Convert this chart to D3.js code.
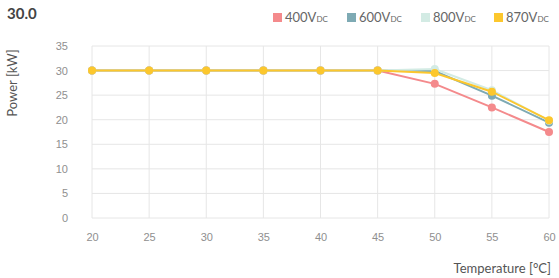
<!DOCTYPE html>
<html>
<head>
<meta charset="utf-8">
<script src="https://cdn.jsdelivr.net/npm/d3@7"></script>
<style>
  body { margin: 0; background: #fff; font-family: "Lato", "Open Sans", sans-serif; }
  .tick text { fill: #8f8f8f; font-size: 11px; }
</style>
</head>
<body>
<div class="viz"></div>
<script>
const temps = [20, 25, 30, 35, 40, 45, 50, 55, 60];
const yTicks = [0, 5, 10, 15, 20, 25, 30, 35];

const series = ["400", "600", "800", "870"];
const p400 = [30, 30, 30, 30, 30, 30, 27.3, 22.5, 17.5];
const p600 = [30, 30, 30, 30, 30, 30, 29.9, 24.9, 19.4];
const p800 = [30, 30, 30, 30, 30, 30, 30.3, 26.0, 19.8];
const p870 = [30, 30, 30, 30, 30, 30, 29.5, 25.7, 19.9];

const colors = ["#f48a8c", "#7eaab4", "#d3ebe4", "#fcc72d"];
const values = [p400, p600, p800, p870];

const margin = { top: 46, right: 10, bottom: 60, left: 92 };
const W = 559, H = 278;
const width = W - margin.left - margin.right;
const height = H - margin.top - margin.bottom;

const svg = d3.select('.viz')
    .append('svg')
    .attr('width', W)
    .attr('height', H);

const g = svg.append('g')
    .attr('transform', `translate(${margin.left},${margin.top})`);

const x = d3.scaleLinear().domain([20, 60]).range([0, width]);
const y = d3.scaleLinear().domain([0, 35]).range([height, 0]);

// grid
g.append("g")
    .selectAll("line")
    .data(yTicks)
    .enter()
    .append("line")
    .attr("x1", 0).attr("x2", width)
    .attr("y1", d => y(d)).attr("y2", d => y(d))
    .style("stroke", "#e6e6e6");

g.append("g")
    .selectAll("line")
    .data(temps)
    .enter()
    .append("line")
    .attr("y1", 0).attr("y2", height)
    .attr("x1", d => x(d)).attr("x2", d => x(d))
    .style("stroke", "#e6e6e6");

// axes
const yAxis = g.append("g")
    .call(d3.axisLeft(y).tickValues(yTicks).tickSize(0).tickPadding(24));
yAxis.select(".domain").remove();

const xAxis = g.append("g")
    .attr("transform", `translate(0,${height})`)
    .call(d3.axisBottom(x).tickValues(temps).tickSize(0).tickPadding(15));
xAxis.select(".domain").remove();

// axis titles
svg.append("text")
    .attr("transform", `translate(17,${margin.top + 37}) rotate(-90)`)
    .attr("text-anchor", "middle")
    .style("font-size", "13px")
    .style("fill", "#555")
    .text("Power [kW]");

svg.append("text")
    .attr("x", 551)
    .attr("y", 273)
    .attr("text-anchor", "end")
    .style("font-size", "13px")
    .style("fill", "#555")
    .text("Temperature [°C]");

// headline value
svg.append("text")
    .attr("x", 7)
    .attr("y", 19)
    .style("font-size", "15px")
    .style("font-weight", "bold")
    .style("fill", "#444")
    .text("30.0");

// lines
const line = d3.line()
    .x((d, i) => x(temps[i]))
    .y(d => y(d));

series.forEach(function(s, k) {
    const sg = g.append("g");
    sg.append("path")
        .datum(values[k])
        .attr("d", line)
        .style("fill", "none")
        .style("stroke", colors[k])
        .style("stroke-width", 2);
    sg.selectAll("circle")
        .data(values[k])
        .enter()
        .append("circle")
        .attr("cx", (d, i) => x(temps[i]))
        .attr("cy", d => y(d))
        .attr("r", 4)
        .style("fill", colors[k]);
});

// legend
const legX = [273, 347, 421, 494];
const leg = svg.append("g");
series.forEach(function(s, k) {
    leg.append("rect")
        .attr("x", legX[k])
        .attr("y", 13)
        .attr("width", 9)
        .attr("height", 9)
        .style("fill", colors[k]);
    const t = leg.append("text")
        .attr("x", legX[k] + 12)
        .attr("y", 22)
        .style("font-size", "13px")
        .style("fill", "#666");
    t.append("tspan").text(s + "V");
    t.append("tspan")
        .style("font-size", "8px")
        .text("DC");
});
</script>
</body>
</html>
